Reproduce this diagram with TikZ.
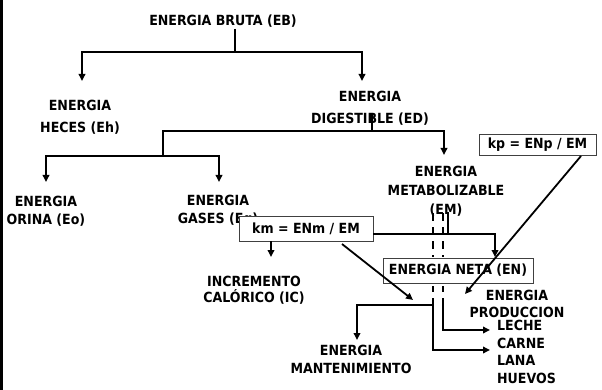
\documentclass[tikz,border=0pt]{standalone}
\usepackage{fontspec}
\setmainfont{DejaVu Sans Condensed}
\usetikzlibrary{arrows.meta}
\begin{document}
\begin{tikzpicture}[x=1pt,y=-1pt,
  lbl/.style={font=\bfseries\fontsize{14}{#1}\selectfont, align=center, inner sep=0pt},
  lbl/.default=18,
  boxed/.style={draw=black!75, line width=0.8pt, fill=white, inner sep=0pt,
    font=\bfseries\fontsize{14}{16}\selectfont},
  ln/.style={line width=1.8pt},
  arr/.style={line width=1.8pt, -{Triangle[length=7pt,width=6.5pt]}},
  dsh/.style={line width=1.8pt, dash pattern=on 8pt off 6pt}]
\useasboundingbox (0,0) rectangle (602,390);
\fill[white] (0,0) rectangle (602,390);
% left frame edge
\draw[line width=2.5pt] (1.25,0) -- (1.25,390);

% text nodes
\node[lbl] (eb) at (223,21) {ENERGIA BRUTA (EB)};
\node[lbl=22] (eh) at (80,117) {ENERGIA\\HECES (Eh)};
\node[lbl=22] (ed) at (370,108) {ENERGIA\\DIGESTIBLE (ED)};
\node[lbl] (eo) at (46,211) {ENERGIA\\ORINA (Eo)};
\node[lbl] (eg) at (218,211) {ENERGIA\\GASES (Eg)};
\node[lbl=19] (em) at (446,191.5) {ENERGIA\\METABOLIZABLE\\(EM)};
\node[lbl=16] (ic) at (254,290) {INCREMENTO\\CALÓRICO (IC)};
\node[lbl=17] (ep) at (517,303.5) {ENERGIA\\PRODUCCION};
\node[lbl=17.5, align=left, anchor=north west] (prod) at (497,320) {LECHE\\CARNE\\LANA\\HUEVOS};
\node[lbl] (mant) at (351,359) {ENERGIA\\MANTENIMIENTO};

% boxes
\node[boxed, minimum width=134pt, minimum height=25pt] (km) at (306,228.5) {km = ENm / EM};
\node[boxed, minimum width=117pt, minimum height=21pt] (kp) at (537.5,144.5) {kp = ENp / EM};
\node[boxed, minimum width=150pt, minimum height=25pt] (en) at (458,270.5) {ENERGIA NETA (EN)};

% EB tree
\coordinate (ebS) at (235,29);
\coordinate (ebJ) at (235,52);
\coordinate (ehT) at (82,81);
\coordinate (edT) at (362,81);
\draw[ln] (ebS) -- (ebJ);
\draw[arr] (ebJ) -| (ehT);
\draw[arr] (ebJ) -| (edT);

% ED tree
\coordinate (edS) at (372,113);
\coordinate (edJ) at (372,131);
\coordinate (emT) at (444,155);
\coordinate (dJ) at (163,156);
\coordinate (eoT) at (46,182);
\coordinate (egT) at (219,182);
\draw[ln] (edS) -- (edJ);
\draw[arr] (edJ) -| (emT);
\draw[ln] (edJ) -| (dJ);
\draw[arr] (dJ) -| (eoT);
\draw[arr] (dJ) -| (egT);

% km connectors
\coordinate (icT) at (271,257);
\draw[arr] (km.south -| icT) -- (icT);
\coordinate (kmD) at (342,244);
\coordinate (kmT) at (413,300);
\draw[arr] (kmD) -- (kmT);

% EM to EN
\coordinate (emS) at (448,212);
\coordinate (hJ) at (448,234);
\coordinate (enT) at (495,257);
\draw[ln] (km.east |- hJ) -- (hJ);
\draw[ln] (emS) -- (hJ);
\draw[arr] (hJ) -| (enT);
\draw[dsh] (433,213) -- (433,257);
\draw[dsh] (443,213) -- (443,257);

% below EN
\draw[ln] (433,286) -- (433,292);
\draw[ln] (443,286) -- (443,292);
\coordinate (pL) at (433,298);
\coordinate (pR) at (443,298);
\coordinate (carT) at (490,350);
\coordinate (lecT) at (490,330);
\coordinate (mJ) at (433,305);
\coordinate (mT) at (357,340);
\draw[arr] (pL) |- (carT);
\draw[arr] (pR) |- (lecT);
\draw[arr] (mJ) -| (mT);

% kp connector
\coordinate (kpD) at (581,156);
\coordinate (kpT) at (465,294);
\draw[arr] (kpD) -- (kpT);
\end{tikzpicture}
\end{document}
